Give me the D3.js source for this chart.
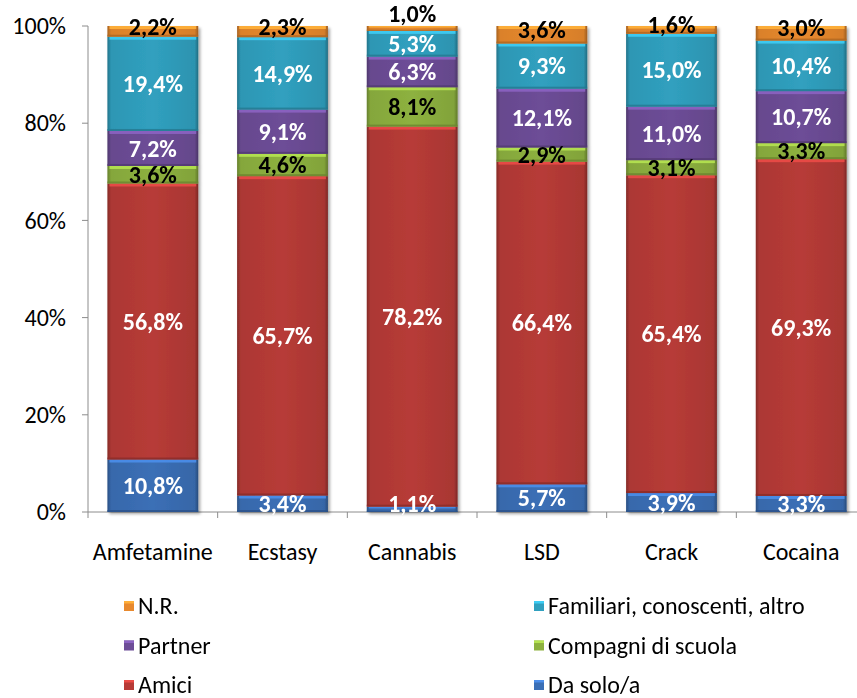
<!DOCTYPE html>
<html>
<head>
<meta charset="utf-8">
<script src="https://cdn.jsdelivr.net/npm/d3@7"></script>
<style>
  html, body { margin: 0; padding: 0; background: #fff; }
  svg { display: block; }
  text { font-family: Carlito, Calibri, "Open Sans", sans-serif; }
</style>
</head>
<body>
<svg id="chart" width="857" height="698"></svg>
<script>
// Categories (substances) along the x axis
const categories = ["Amfetamine", "Ecstasy", "Cannabis", "LSD", "Crack", "Cocaina"];

// Series, bottom to top of each stack (percent)
const daSolo      = [10.8, 3.4, 1.1, 5.7, 3.9, 3.3];
const amici       = [56.8, 65.7, 78.2, 66.4, 65.4, 69.3];
const compagni    = [3.6, 4.6, 8.1, 2.9, 3.1, 3.3];
const partner     = [7.2, 9.1, 6.3, 12.1, 11.0, 10.7];
const familiari   = [19.4, 14.9, 5.3, 9.3, 15.0, 10.4];
const nonRisposto = [2.2, 2.3, 1.0, 3.6, 1.6, 3.0];

const seriesNames = ["Da solo/a", "Amici", "Compagni di scuola", "Partner", "Familiari, conoscenti, altro", "N.R."];
const seriesValues = [daSolo, amici, compagni, partner, familiari, nonRisposto];
const seriesColors = ["#3b6fb6", "#b73b37", "#8db13f", "#6d4d97", "#30a0bf", "#e8892e"];
const labelColors  = ["#fff", "#fff", "#000", "#fff", "#fff", "#000"];

const yTicks = [0, 0.2, 0.4, 0.6, 0.8, 1.0];

const svg = d3.select("#chart");

const x = d3.scaleBand().domain(categories).range([88, 866]).paddingInner(0.3).paddingOuter(0.15);
const y = d3.scaleLinear().domain([0, 1]).range([512, 26]);

// Stack the series
const rows = categories.map((c, i) => {
  const r = { cat: c };
  seriesNames.forEach((s, j) => { r[s] = seriesValues[j][i] / 100; });
  return r;
});
const stacked = d3.stack().keys(seriesNames)(rows);

// Gradients for the bevelled look
const defs = svg.append("defs");
const edge = defs.append("linearGradient").attr("id", "edgeShade").attr("x1", 0).attr("x2", 1).attr("y1", 0).attr("y2", 0);
edge.append("stop").attr("offset", 0).attr("stop-color", "#000").attr("stop-opacity", 0.28);
edge.append("stop").attr("offset", 0.04).attr("stop-color", "#000").attr("stop-opacity", 0.06);
edge.append("stop").attr("offset", 0.5).attr("stop-color", "#000").attr("stop-opacity", 0);
edge.append("stop").attr("offset", 0.96).attr("stop-color", "#000").attr("stop-opacity", 0.08);
edge.append("stop").attr("offset", 1).attr("stop-color", "#000").attr("stop-opacity", 0.32);

const shadow = defs.append("filter").attr("id", "barShadow").attr("x", "-10%").attr("y", "-10%").attr("width", "130%").attr("height", "130%");
shadow.append("feGaussianBlur").attr("in", "SourceAlpha").attr("stdDeviation", 1.5).attr("result", "b");
shadow.append("feOffset").attr("dx", 1.5).attr("dy", 1.5).attr("result", "o");
shadow.append("feComponentTransfer").append("feFuncA").attr("type", "linear").attr("slope", 0.35);
const merge = shadow.append("feMerge");
merge.append("feMergeNode");
merge.append("feMergeNode").attr("in", "SourceGraphic");

const axisFont = 24;

// Y axis
const yAxisG = svg.append("g");
yAxisG.append("line").attr("x1", 88).attr("x2", 88).attr("y1", y(1)).attr("y2", y(0)).attr("stroke", "#8c8c8c");
yTicks.forEach(t => {
  yAxisG.append("line").attr("x1", 82).attr("x2", 88).attr("y1", y(t)).attr("y2", y(t)).attr("stroke", "#8c8c8c");
  yAxisG.append("text").attr("x", 66).attr("y", y(t)).attr("dy", "0.34em")
    .attr("text-anchor", "end").attr("font-size", axisFont).attr("fill", "#000")
    .text(d3.format(".0%")(t));
});

// X axis
const xAxisG = svg.append("g");
xAxisG.append("line").attr("x1", 88).attr("x2", 866).attr("y1", y(0)).attr("y2", y(0)).attr("stroke", "#8c8c8c");
categories.forEach((c, i) => {
  const bx = x(c) - x.step() * x.paddingInner() / 2;
  xAxisG.append("line").attr("x1", bx).attr("x2", bx).attr("y1", y(0)).attr("y2", y(0) + 6).attr("stroke", "#8c8c8c");
  xAxisG.append("text").attr("x", x(c) + x.bandwidth() / 2).attr("y", 560)
    .attr("text-anchor", "middle").attr("font-size", axisFont).attr("fill", "#000").text(c);
});

// Bars
const layers = svg.append("g").attr("filter", "url(#barShadow)");
stacked.forEach((layer, j) => {
  const g = layers.append("g");
  layer.forEach((d, i) => {
    const x0 = x(categories[i]), w = x.bandwidth();
    const y0 = y(d[1]), h = y(d[0]) - y(d[1]);
    const base = d3.color(seriesColors[j]);
    g.append("rect").attr("x", x0).attr("y", y0).attr("width", w).attr("height", h).attr("fill", base);
    g.append("rect").attr("x", x0).attr("y", y0).attr("width", w).attr("height", h).attr("fill", "url(#edgeShade)");
    // top highlight strip
    const hs = Math.min(3, h / 3);
    g.append("rect").attr("x", x0 + 2).attr("y", y0).attr("width", w - 4).attr("height", hs)
      .attr("fill", base.brighter(0.7)).attr("opacity", 0.9);
    // bottom darker strip
    const bs = Math.min(2, h / 4);
    g.append("rect").attr("x", x0).attr("y", y0 + h - bs).attr("width", w).attr("height", bs)
      .attr("fill", base.darker(0.8)).attr("opacity", 0.8);
  });
});

// Value labels, kept inside the plot area
const labels = svg.append("g");
const mid = d => (y(d[0]) + y(d[1])) / 2;
stacked.forEach((layer, j) => {
  layer.forEach((d, i) => {
    let cy = Math.min(mid(d), 504);
    if (j === seriesNames.length - 1) {
      // topmost label sits a little higher and clear of the one below it
      const below = mid(stacked[j - 1][i]);
      cy = Math.min(cy - 5, below - 30);
    }
    labels.append("text")
      .attr("x", x(categories[i]) + x.bandwidth() / 2)
      .attr("y", cy)
      .attr("dy", "0.34em")
      .attr("text-anchor", "middle")
      .attr("font-size", 24).attr("font-weight", "bold")
      .attr("fill", labelColors[j])
      .text(d3.format(".1f")(seriesValues[j][i]).replace(".", ",") + "%");
  });
});

// Legend (two columns, top of stack first)
const legendOrder = ["N.R.", "Familiari, conoscenti, altro", "Partner", "Compagni di scuola", "Amici", "Da solo/a"];
const legend = svg.append("g");
legendOrder.forEach((name, k) => {
  const col = k % 2, row = Math.floor(k / 2);
  const lx = col === 0 ? 124 : 534;
  const ly = 606 + row * 39.5;
  const j = seriesNames.indexOf(name);
  const base = d3.color(seriesColors[j]);
  legend.append("rect").attr("x", lx).attr("y", ly - 5).attr("width", 10).attr("height", 10).attr("fill", base);
  legend.append("rect").attr("x", lx).attr("y", ly - 5).attr("width", 10).attr("height", 2.5).attr("fill", base.brighter(0.7));
  legend.append("text").attr("x", lx + 14).attr("y", ly).attr("dy", "0.34em")
    .attr("font-size", axisFont).attr("fill", "#000").text(name);
});
</script>
</body>
</html>
